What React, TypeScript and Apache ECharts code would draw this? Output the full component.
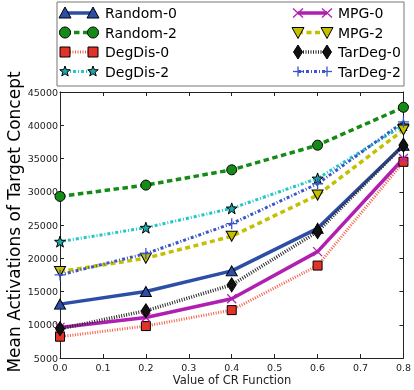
import React, { useEffect, useRef } from "react";
import * as echarts from "echarts";

const xValues = [0, 0.2, 0.4, 0.6, 0.8];
const random0 = [13100, 15000, 18100, 24500, 37000];
const random2 = [29300, 31000, 33300, 37000, 42700];
const degdis0 = [8200, 9800, 12200, 18900, 34500];
const degdis2 = [22500, 24600, 27500, 32000, 40000];
const mpg0 = [9600, 11100, 13900, 21000, 35000];
const mpg2 = [18000, 20000, 23300, 29500, 39300];
const tardeg0 = [9400, 12100, 16000, 24000, 37000];
const tardeg2 = [17500, 20700, 25200, 31200, 40500];

const FONT = "DejaVu Sans";
const STAR = "path://M50,0L61.76,33.82L97.55,34.55L69.02,56.18L79.39,90.45L50,70L20.61,90.45L30.98,56.18L2.45,34.55L38.24,33.82Z";
const XMARK = "path://M0,0L10,10M10,0L0,10";
const PLUS = "path://M5,0L5,10M0,5L10,5";

type Def = {
  name: string;
  data: number[];
  color: string;
  fill: string;
  width: number;
  dash: any;
  marker: string;
};

const defs: Def[] = [
  { name: "Random-0", data: random0, color: "#2d4ea6", fill: "#2d4ea6", width: 3.5, dash: "solid", marker: "tri" },
  { name: "Random-2", data: random2, color: "#168a16", fill: "#168a16", width: 3.5, dash: [5.5, 3.5], marker: "circle" },
  { name: "DegDis-0", data: degdis0, color: "#f5604a", fill: "#e2332a", width: 3, dash: [1, 1.5], marker: "square" },
  { name: "DegDis-2", data: degdis2, color: "#25c6c6", fill: "#1aa9a9", width: 3, dash: [3, 2, 1, 2], marker: "star" },
  { name: "MPG-0", data: mpg0, color: "#b01fb0", fill: "#b01fb0", width: 3.5, dash: "solid", marker: "x" },
  { name: "MPG-2", data: mpg2, color: "#c4c000", fill: "#c4c000", width: 3.5, dash: [5, 3.5], marker: "tridown" },
  { name: "TarDeg-0", data: tardeg0, color: "#2a2a2a", fill: "#111111", width: 3.5, dash: [1, 1.5], marker: "diamond" },
  { name: "TarDeg-2", data: tardeg2, color: "#3a56c8", fill: "#3a56c8", width: 3, dash: [3, 2, 1, 2], marker: "plus" },
];

function seriesSymbol(m: string) {
  switch (m) {
    case "tri": return { symbol: "triangle", symbolSize: [11, 10], symbolRotate: 0 };
    case "circle": return { symbol: "circle", symbolSize: 10, symbolRotate: 0 };
    case "square": return { symbol: "rect", symbolSize: 9, symbolRotate: 0 };
    case "star": return { symbol: STAR, symbolSize: 11, symbolRotate: 0 };
    case "x": return { symbol: XMARK, symbolSize: 9, symbolRotate: 0 };
    case "tridown": return { symbol: "triangle", symbolSize: [11, 10], symbolRotate: 180 };
    case "diamond": return { symbol: "diamond", symbolSize: [9, 14], symbolRotate: 0 };
    default: return { symbol: PLUS, symbolSize: 11, symbolRotate: 0 };
  }
}

function legendMarker(d: Def, cx: number, cy: number): any[] {
  const border = { stroke: "#000", lineWidth: 1, fill: d.fill };
  switch (d.marker) {
    case "tri":
      return [{ type: "polygon", shape: { points: [[cx, cy - 6], [cx - 6, cy + 5], [cx + 6, cy + 5]] }, style: border }];
    case "tridown":
      return [{ type: "polygon", shape: { points: [[cx, cy + 6], [cx - 6, cy - 5], [cx + 6, cy - 5]] }, style: border }];
    case "circle":
      return [{ type: "circle", shape: { cx, cy, r: 5.5 }, style: border }];
    case "square":
      return [{ type: "rect", shape: { x: cx - 5, y: cy - 5, width: 10, height: 10 }, style: border }];
    case "diamond":
      return [{ type: "polygon", shape: { points: [[cx, cy - 7], [cx + 4.5, cy], [cx, cy + 7], [cx - 4.5, cy]] }, style: border }];
    case "star": {
      const pts: number[][] = [];
      for (let i = 0; i < 10; i++) {
        const r = i % 2 === 0 ? 5.5 : 2.3;
        const a = -Math.PI / 2 + (i * Math.PI) / 5;
        pts.push([cx + r * Math.cos(a), cy + r * Math.sin(a)]);
      }
      return [{ type: "polygon", shape: { points: pts }, style: border }];
    }
    case "x":
      return [
        { type: "line", shape: { x1: cx - 5, y1: cy - 4.5, x2: cx + 5, y2: cy + 4.5 }, style: { stroke: d.color, lineWidth: 1.3 } },
        { type: "line", shape: { x1: cx - 5, y1: cy + 4.5, x2: cx + 5, y2: cy - 4.5 }, style: { stroke: d.color, lineWidth: 1.3 } },
      ];
    default:
      return [
        { type: "line", shape: { x1: cx, y1: cy - 5, x2: cx, y2: cy + 5 }, style: { stroke: d.color, lineWidth: 1.3 } },
        { type: "line", shape: { x1: cx - 5, y1: cy, x2: cx + 5, y2: cy }, style: { stroke: d.color, lineWidth: 1.3 } },
      ];
  }
}

export default function App() {
  const ref = useRef<HTMLDivElement>(null);
  useEffect(() => {
    if (!ref.current) return;
    const chart = echarts.init(ref.current, null, { renderer: "svg" });

    const legendEls: any[] = [
      { type: "rect", shape: { x: 57, y: 2, width: 347, height: 84 }, style: { fill: "#fff", stroke: "#777", lineWidth: 1 }, z: 10 },
    ];
    const rows = [13, 32.5, 52, 71.5];
    defs.forEach((d, i) => {
      const col = Math.floor(i / 4);
      const row = i % 4;
      const y = rows[row];
      const x1 = col === 0 ? 65 : 298;
      const x2 = col === 0 ? 93 : 327;
      const tx = col === 0 ? 105 : 338;
      legendEls.push({
        type: "line",
        shape: { x1, y1: y, x2, y2: y },
        style: { stroke: d.color, lineWidth: d.width, lineDash: d.dash === "solid" ? null : d.dash },
        z: 11,
      });
      legendMarker(d, x1, y).forEach((e) => legendEls.push({ ...e, z: 12 }));
      legendMarker(d, x2, y).forEach((e) => legendEls.push({ ...e, z: 12 }));
      legendEls.push({
        type: "text",
        x: tx,
        y,
        style: { text: d.name, fontFamily: FONT, fontSize: 14, fill: "#000", textVerticalAlign: "middle", textAlign: "left" },
        z: 12,
      });
    });

    const axisCommon = {
      axisLine: { show: true, onZero: false, lineStyle: { color: "#222", width: 1 } },
      axisTick: { show: true, inside: true, length: 4, lineStyle: { color: "#222" } },
      splitLine: { show: false },
    };

    chart.setOption({
      animation: false,
      grid: { left: 60, right: 10, top: 92, bottom: 32 },
      xAxis: [
        {
          type: "value", min: 0, max: 0.8, interval: 0.1, position: "bottom",
          ...axisCommon,
          axisLabel: { fontFamily: FONT, fontSize: 9.5, color: "#222", margin: 4, formatter: (v: number) => v.toFixed(1) },
        },
        {
          type: "value", min: 0, max: 0.8, interval: 0.1, position: "top",
          ...axisCommon,
          axisLabel: { show: false },
        },
      ],
      yAxis: [
        {
          type: "value", min: 5000, max: 45000, interval: 5000, position: "left",
          ...axisCommon,
          axisLabel: { fontFamily: FONT, fontSize: 9.5, color: "#222", margin: 2, formatter: (v: number) => String(Math.round(v)), verticalAlign: "middle" },
        },
        {
          type: "value", min: 5000, max: 45000, interval: 5000, position: "right",
          ...axisCommon,
          axisLabel: { show: false },
        },
      ],
      series: defs.map((d) => ({
        name: d.name,
        type: "line",
        xAxisIndex: 0,
        yAxisIndex: 0,
        data: xValues.map((x, i) => [x, d.data[i]]),
        ...seriesSymbol(d.marker),
        showSymbol: true,
        clip: false,
        lineStyle: { color: d.color, width: d.width, type: d.dash },
        itemStyle: d.marker === "x" || d.marker === "plus"
          ? { color: d.color, borderColor: d.color, borderWidth: 1.3 }
          : { color: d.fill, borderColor: "#000", borderWidth: 1 },
        emphasis: { disabled: true },
      })),
      graphic: [
        ...legendEls,
        {
          type: "text", x: 14, y: 222, rotation: Math.PI / 2,
          style: { text: "Mean Activations of Target Concept", fontFamily: FONT, fontSize: 17, fill: "#000", textAlign: "center", textVerticalAlign: "middle" },
        },
        {
          type: "text", x: 232, y: 380,
          style: { text: "Value of CR Function", fontFamily: FONT, fontSize: 11.5, fill: "#222", textAlign: "center", textVerticalAlign: "middle" },
        },
      ],
    });
    return () => chart.dispose();
  }, []);
  return <div ref={ref} style={{ width: 414, height: 390, position: "fixed", left: 0, top: 0 }} />;
}
